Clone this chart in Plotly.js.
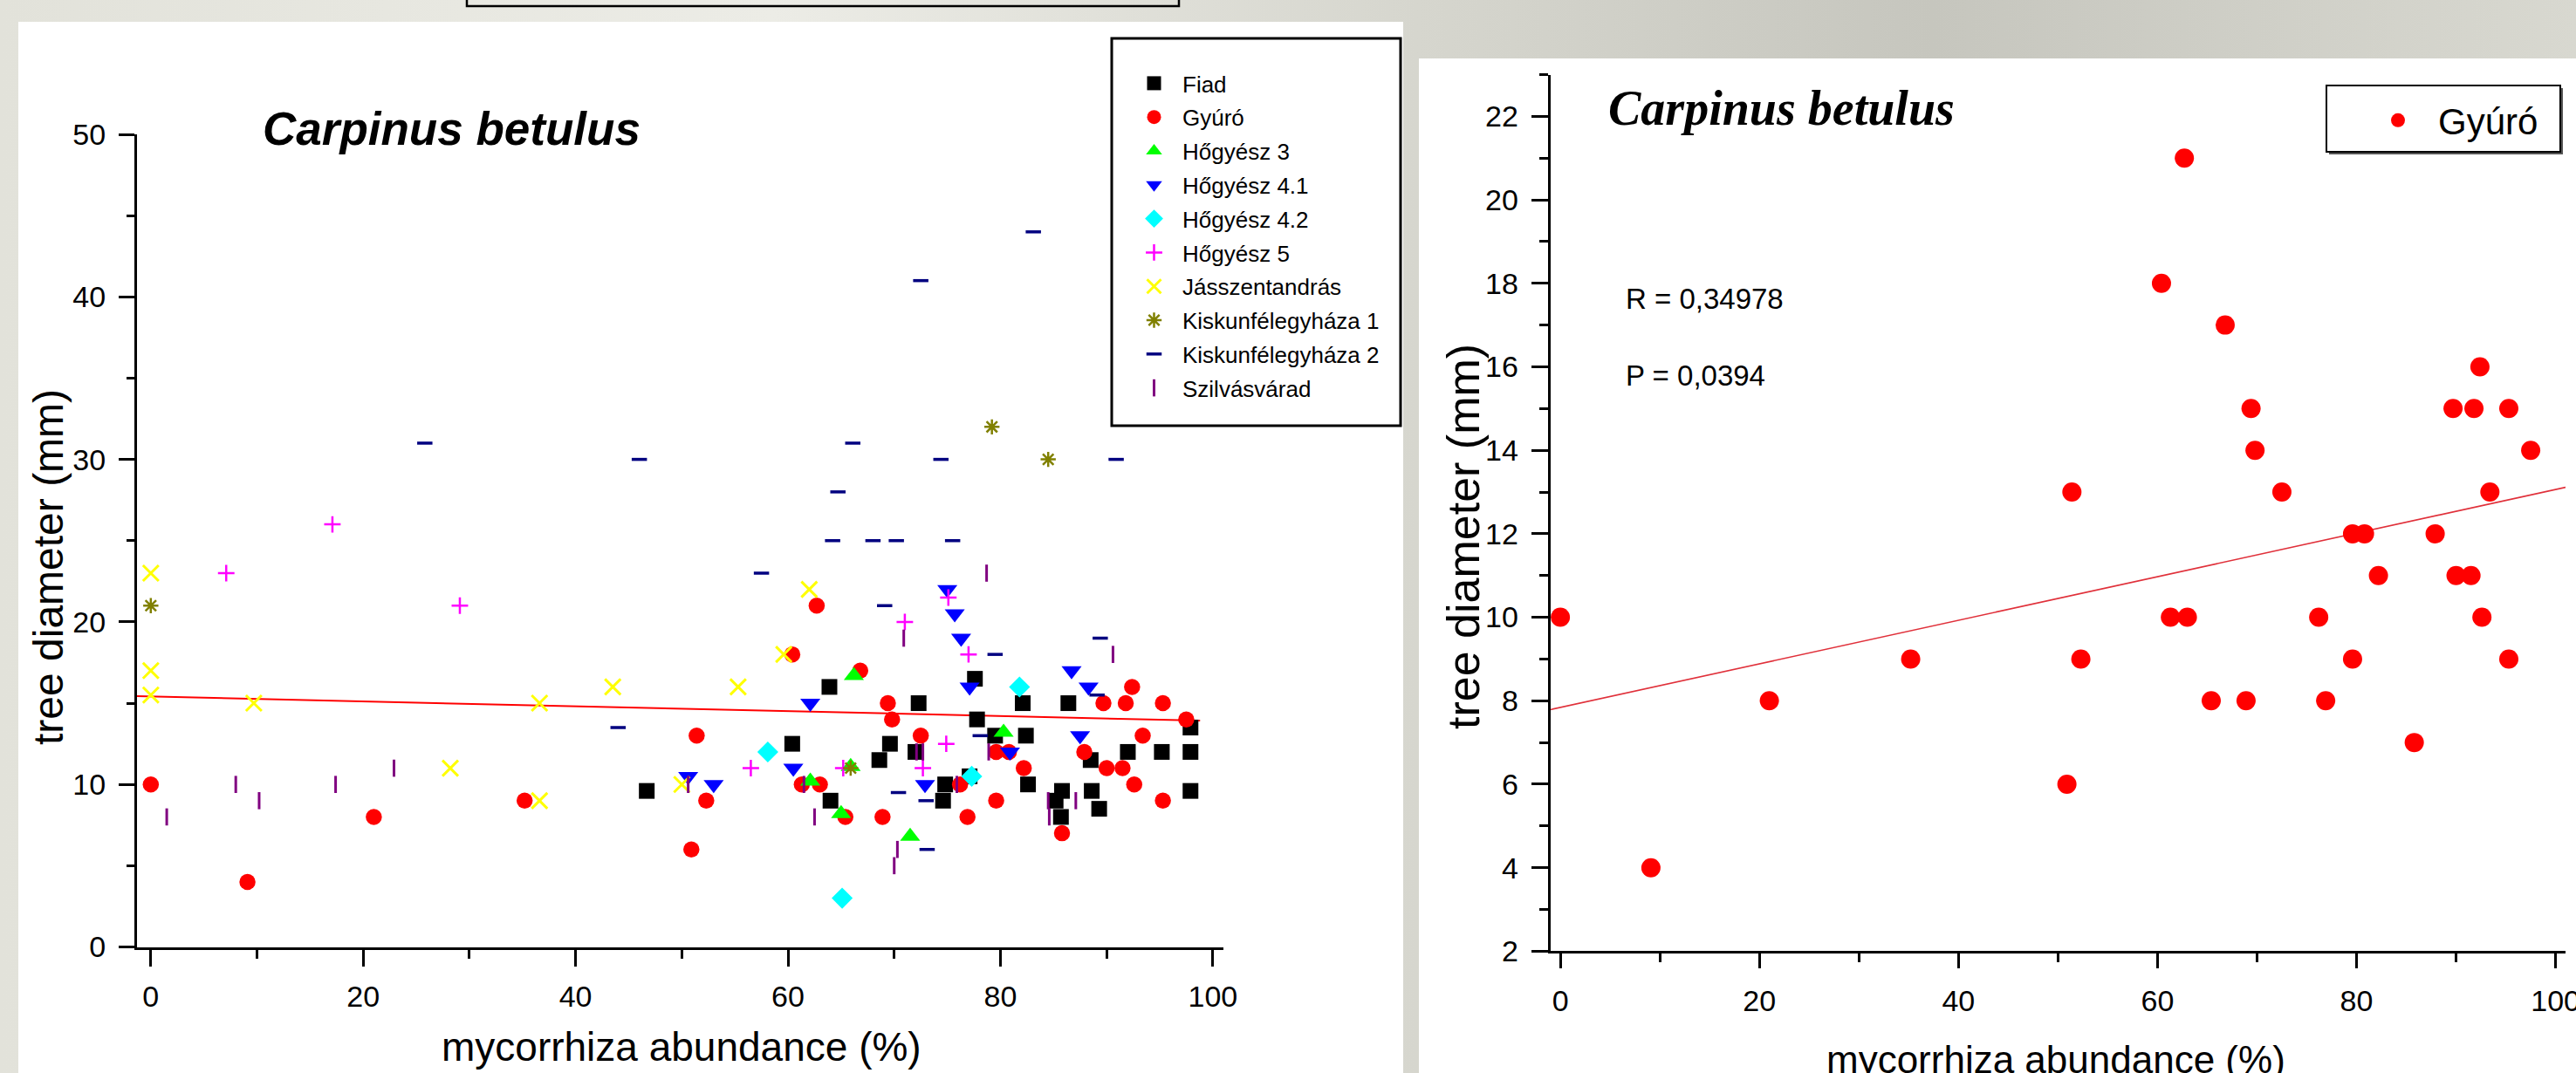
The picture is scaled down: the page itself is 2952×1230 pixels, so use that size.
<!DOCTYPE html>
<html>
<head>
<meta charset="utf-8">
<script src="https://cdn.plot.ly/plotly-3.0.1.min.js"></script>
<style>
  html, body { margin: 0; padding: 0; overflow: hidden; }
  body { width: 2952px; height: 1230px;
    background: linear-gradient(90deg, #e2e2da 0%, #ecece6 30%, #d6d6ce 55%, #c6c6be 75%, #d8d8d0 100%); }
  #chart { width: 2952px; height: 1230px; }
</style>
</head>
<body>
<div id="chart"></div>
<script>
// ---------------- data ----------------
const fiadX = [46.7, 60.4, 63.9, 64.0, 68.6, 69.6, 72.0, 72.3, 74.6, 74.8, 77.1, 77.6, 77.8, 79.5, 82.1, 82.4, 82.6, 85.2, 85.8, 85.7, 86.4, 88.5, 88.6, 89.3, 92.0, 95.2, 97.9, 97.9, 97.9];
const fiadY = [9.6, 12.5, 16, 9, 11.5, 12.5, 12, 15, 9, 10, 10.5, 16.5, 14, 13, 15, 13, 10, 9, 9.6, 8, 15, 11.5, 9.6, 8.5, 12, 12, 13.5, 12, 9.6];

const gyuroX = [0, 9.1, 21.0, 35.2, 50.9, 51.4, 52.3, 60.4, 61.3, 62.7, 63.0, 65.4, 66.8, 68.9, 69.4, 69.8, 72.5, 76.2, 76.9, 79.6, 79.6, 80.8, 82.2, 85.8, 87.9, 89.7, 90.0, 91.5, 91.8, 92.4, 92.6, 93.4, 95.3, 95.3, 97.5];
const gyuroY = [10, 4, 8, 9, 6, 13, 9, 18, 10, 21, 10, 8, 17, 8, 15, 14, 13, 10, 8, 9, 12, 12, 11, 7, 12, 15, 11, 11, 15, 16, 10, 13, 15, 9, 14];

const hogy3X = [62.1, 65.0, 65.9, 66.2, 71.5, 80.3];
const hogy3Y = [10.2, 8.2, 11.1, 16.7, 6.8, 13.2];

const hogy41X = [50.6, 53.0, 60.5, 62.1, 72.9, 75.0, 75.7, 76.3, 77.1, 80.9, 86.7, 87.5, 88.3];
const hogy41Y = [10.5, 10, 11, 15, 10, 22, 20.5, 19, 16, 12, 17, 13, 16];

const hogy42X = [58.1, 65.1, 77.3, 81.8];
const hogy42Y = [12, 3, 10.5, 16];

const hogy5X = [7.1, 17.1, 29.1, 56.5, 65.2, 71.0, 72.7, 74.9, 75.1, 77.0];
const hogy5Y = [23, 26, 21, 11, 11, 20, 11, 12.5, 21.5, 18];

const jaszX = [0, 0, 0, 9.7, 28.2, 36.6, 36.6, 43.5, 50.0, 55.3, 59.6, 62.0];
const jaszY = [23, 17, 15.5, 15, 11, 15, 9, 16, 10, 16, 18, 22];

const kisk1X = [0, 65.9, 79.2, 84.5];
const kisk1Y = [21, 11, 32, 30];

const kisk2X = [25.8, 44.0, 46.0, 57.5, 64.2, 64.7, 66.1, 68.0, 69.1, 70.2, 70.4, 72.5, 73.0, 73.1, 74.4, 75.5, 78.1, 79.5, 83.1, 89.1, 89.4, 90.9];
const kisk2Y = [31, 13.5, 30, 23, 25, 28, 31, 25, 21, 25, 9.5, 41, 9, 6, 30, 25, 13, 18, 44, 15.5, 19, 30];

const szilvX = [1.5, 8.0, 10.2, 17.4, 22.9, 50.6, 61.5, 62.5, 70.0, 70.3, 70.9, 72.1, 72.7, 75.9, 78.7, 78.9, 84.5, 84.6, 87.1, 90.6];
const szilvY = [8, 10, 9, 10, 11, 10, 10, 8, 5, 6, 19, 12, 12, 10, 23, 12, 9, 8, 9, 18];

// linear fits as drawn in the reference
const leftFit = { intercept: 15.41, slope: -0.01504, xStart: -1.3, xEnd: 98.8 };
const rightFit = { intercept: 7.84, slope: 0.0522, xStart: -1, xEnd: 101 };

const xTicks = [0, 20, 40, 60, 80, 100];
const xMinor = [10, 30, 50, 70, 90];
const yTicksLeft = [0, 10, 20, 30, 40, 50];
const yMinorLeft = [5, 15, 25, 35, 45];
const yTicksRight = [2, 4, 6, 8, 10, 12, 14, 16, 18, 20, 22];
const yMinorRight = [3, 5, 7, 9, 11, 13, 15, 17, 19, 21, 23];

const statR = 'R = 0,34978';
const statP = 'P = 0,0394';
// -----------------------------------------------------------------

const W = 2952, H = 1230;
const px = v => v / W;
const py = v => 1 - v / H;

const SANS = '"Liberation Sans", Arial, sans-serif';
const SERIF = '"Liberation Serif", "Times New Roman", serif';

function fitLine(f) {
  const xs = [f.xStart, f.xEnd];
  return { x: xs, y: xs.map(x => f.intercept + f.slope * x) };
}

function pts(name, xs, ys, marker) {
  return { type: 'scatter', mode: 'markers', name: name, legendgroup: name, x: xs, y: ys,
    xaxis: 'x', yaxis: 'y', marker: marker, cliponaxis: false };
}

const lf = fitLine(leftFit);
const rf = fitLine(rightFit);

const traces = [
  { type: 'scatter', mode: 'lines', x: lf.x, y: lf.y, xaxis: 'x', yaxis: 'y', showlegend: false,
    line: { color: '#ff0000', width: 2 } },
  pts('Fiad', fiadX, fiadY, { symbol: 'square', color: '#000000', size: 18 }),
  pts('Gyúró', gyuroX, gyuroY, { symbol: 'circle', color: '#ff0000', size: 18.5 }),
  pts('Hőgyész 3', hogy3X, hogy3Y, { symbol: 'triangle-up', color: '#00ff00', size: 20 }),
  pts('Hőgyész 4.1', hogy41X, hogy41Y, { symbol: 'triangle-down', color: '#0000ff', size: 20 }),
  pts('Hőgyész 4.2', hogy42X, hogy42Y, { symbol: 'diamond', color: '#00ffff', size: 18.5 }),
  pts('Hőgyész 5', hogy5X, hogy5Y, { symbol: 'cross-thin', color: '#ff00ff', size: 13.5, line: { color: '#ff00ff', width: 2.5 } }),
  pts('Jásszentandrás', jaszX, jaszY, { symbol: 'x-thin', color: '#ffff00', size: 18, line: { color: '#ffff00', width: 3 } }),
  pts('Kiskunfélegyháza 1', kisk1X, kisk1Y, { symbol: 'asterisk', color: '#808000', size: 14.5, line: { color: '#808000', width: 2.5 } }),
  pts('Kiskunfélegyháza 2', kisk2X, kisk2Y, { symbol: 'line-ew', color: '#000080', size: 12.5, line: { color: '#000080', width: 3.5 } }),
  pts('Szilvásvárad', szilvX, szilvY, { symbol: 'line-ns', color: '#800080', size: 14, line: { color: '#800080', width: 3 } }),
  // right panel
  { type: 'scatter', mode: 'lines', x: rf.x, y: rf.y, xaxis: 'x2', yaxis: 'y2', showlegend: false,
    line: { color: '#e0303a', width: 1.6 } },
  { type: 'scatter', mode: 'markers', name: 'Gyúró', x: gyuroX, y: gyuroY, xaxis: 'x2', yaxis: 'y2',
    legend: 'legend2', cliponaxis: false, marker: { symbol: 'circle', color: '#ff0000', size: 22 } }
];

function axisBase(extra) {
  return Object.assign({
    showline: true, linecolor: '#000000', linewidth: 3, mirror: false,
    showgrid: false, zeroline: false, ticks: 'outside', tickcolor: '#000000', tickwidth: 3,
    tickmode: 'array', fixedrange: true, ticklabeloverflow: 'allow',
    tickfont: { family: SANS, size: 34, color: '#000000' }
  }, extra);
}

const layout = {
  width: W, height: H,
  margin: { l: 0, r: 0, t: 0, b: 0, pad: 0 },
  paper_bgcolor: 'rgba(0,0,0,0)', plot_bgcolor: 'rgba(0,0,0,0)',
  showlegend: true,
  xaxis: axisBase({ domain: [px(157), px(1402)], range: [-1.3, 101], anchor: 'y',
    tickvals: xTicks, ticklen: 19, ticklabelstandoff: 6,
    minor: { tickvals: xMinor, ticks: 'outside', ticklen: 10, tickwidth: 3, tickcolor: '#000000', showgrid: false } }),
  yaxis: axisBase({ domain: [py(1085.5), py(154)], range: [0, 50], anchor: 'x',
    tickvals: yTicksLeft, ticklen: 18, ticklabelstandoff: 8,
    minor: { tickvals: yMinorLeft, ticks: 'outside', ticklen: 9, tickwidth: 3, tickcolor: '#000000', showgrid: false } }),
  xaxis2: axisBase({ domain: [px(1776.7), px(2940)], range: [-1, 101], anchor: 'y2',
    tickvals: xTicks, ticklen: 17, ticklabelstandoff: 8,
    minor: { tickvals: xMinor, ticks: 'outside', ticklen: 10, tickwidth: 3, tickcolor: '#000000', showgrid: false } }),
  yaxis2: axisBase({ domain: [py(1090.4), py(85.5)], range: [2, 23], anchor: 'x2',
    tickvals: yTicksRight, ticklen: 19, ticklabelstandoff: 8,
    minor: { tickvals: yMinorRight, ticks: 'outside', ticklen: 10, tickwidth: 3, tickcolor: '#000000', showgrid: false } }),
  legend: {
    x: px(1290), xanchor: 'left', y: py(72), yanchor: 'top',
    bgcolor: 'rgba(0,0,0,0)', borderwidth: 0,
    font: { family: SANS, size: 26, color: '#000000' },
    itemwidth: 55, tracegroupgap: 2, traceorder: 'grouped', itemclick: false, itemdoubleclick: false
  },
  legend2: {
    x: px(2702), xanchor: 'left', y: py(104), yanchor: 'top',
    bgcolor: 'rgba(0,0,0,0)', borderwidth: 0,
    font: { family: SANS, size: 42, color: '#000000' },
    itemwidth: 82, itemclick: false, itemdoubleclick: false
  },
  shapes: [
    // white panels
    { type: 'rect', xref: 'paper', yref: 'paper', layer: 'below', x0: px(21), x1: px(1608), y0: 0, y1: py(25),
      fillcolor: '#ffffff', line: { width: 0 } },
    { type: 'rect', xref: 'paper', yref: 'paper', layer: 'below', x0: px(1626), x1: 1, y0: 0, y1: py(67),
      fillcolor: '#ffffff', line: { width: 0 } },
    // box cut at the top
    { type: 'rect', xref: 'paper', yref: 'paper', layer: 'below', x0: px(535), x1: px(1351), y0: py(7), y1: py(-10),
      fillcolor: 'rgba(0,0,0,0)', line: { color: '#000000', width: 2.5 } },
    // left legend box
    { type: 'rect', xref: 'paper', yref: 'paper', layer: 'below', x0: px(1274), x1: px(1605), y0: py(488), y1: py(44),
      fillcolor: '#ffffff', line: { color: '#000000', width: 3 } },
    // right legend box (shadow + box)
    { type: 'rect', xref: 'paper', yref: 'paper', layer: 'below', x0: px(2669), x1: px(2937), y0: py(177), y1: py(101),
      fillcolor: '#555555', line: { width: 0 } },
    { type: 'rect', xref: 'paper', yref: 'paper', layer: 'below', x0: px(2666), x1: px(2934), y0: py(174), y1: py(98),
      fillcolor: '#ffffff', line: { color: '#000000', width: 2 } }
  ],
  annotations: [
    { xref: 'paper', yref: 'paper', x: px(517), y: py(147), xanchor: 'center', yanchor: 'middle', showarrow: false,
      text: '<b><i>Carpinus betulus</i></b>', font: { family: SANS, size: 53, color: '#000000' } },
    { xref: 'paper', yref: 'paper', x: px(55), y: py(650), xanchor: 'center', yanchor: 'middle', showarrow: false,
      textangle: -90, text: 'tree diameter (mm)', font: { family: SANS, size: 48, color: '#000000' } },
    { xref: 'paper', yref: 'paper', x: px(781), y: py(1200), xanchor: 'center', yanchor: 'middle', showarrow: false,
      text: 'mycorrhiza abundance (%)', font: { family: SANS, size: 46, color: '#000000' } },
    { xref: 'paper', yref: 'paper', x: px(2042), y: py(124), xanchor: 'center', yanchor: 'middle', showarrow: false,
      text: '<b><i>Carpinus betulus</i></b>', font: { family: SERIF, size: 56, color: '#000000' } },
    { xref: 'paper', yref: 'paper', x: px(1861), y: py(342), xanchor: 'left', yanchor: 'middle', showarrow: false,
      text: statR, font: { family: SANS, size: 33, color: '#000000' } },
    { xref: 'paper', yref: 'paper', x: px(1861), y: py(431), xanchor: 'left', yanchor: 'middle', showarrow: false,
      text: statP, font: { family: SANS, size: 33, color: '#000000' } },
    { xref: 'paper', yref: 'paper', x: px(1677), y: py(615), xanchor: 'center', yanchor: 'middle', showarrow: false,
      textangle: -90, text: 'tree diameter (mm)', font: { family: SANS, size: 52, color: '#000000' } },
    { xref: 'paper', yref: 'paper', x: px(2356), y: py(1188), xanchor: 'center', yanchor: 'top', showarrow: false,
      text: 'mycorrhiza abundance (%)', font: { family: SANS, size: 44, color: '#000000' } }
  ]
};

Plotly.newPlot('chart', traces, layout, { staticPlot: true, displayModeBar: false });
</script>
</body>
</html>
